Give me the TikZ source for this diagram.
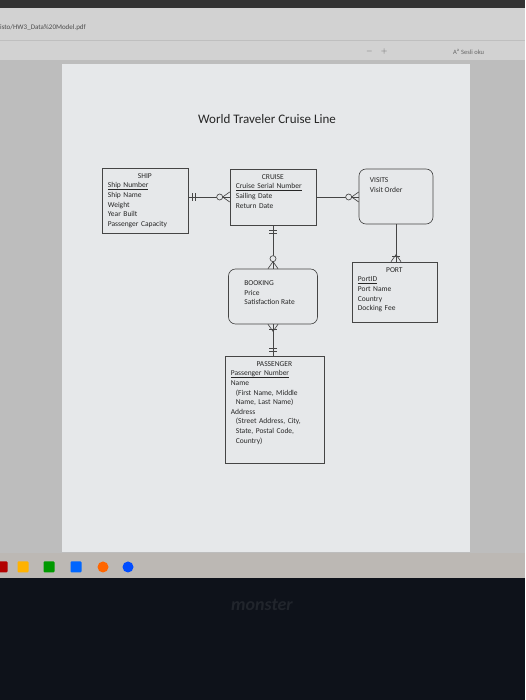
\documentclass[tikz,border=0pt]{standalone}
\usepackage{fontspec}
\setmainfont{Carlito}
\usepackage{tikz}

\definecolor{framegray}{HTML}{BDBDBD}
\definecolor{toolbar}{HTML}{D2D2D2}
\definecolor{pagewhite}{HTML}{E6E8EA}
\definecolor{linegray}{HTML}{454545}
\definecolor{textgray}{HTML}{262626}
\definecolor{taskbar}{HTML}{BCB8B4}
\definecolor{bezel}{HTML}{0E121A}

\tikzset{
  entity/.style={draw=linegray, line width=0.65pt},
  relbox/.style={entity, rounded corners=7pt},
  attrs/.style={anchor=north west, inner sep=0pt, align=left, text=textgray,
    font=\fontsize{7.5}{9.6}\selectfont},
  conn/.style={draw=linegray, line width=0.65pt},
  icon/.style={inner sep=0pt, minimum size=11pt, rounded corners=1pt}
}

% key attribute, underlined close to the baseline
\newcommand{\keyattr}[1]{\leavevmode\setbox0\hbox{#1}\rlap{\rule[-1.1pt]{\wd0}{0.4pt}}\box0}
% ER end marks: #1 point on the box, #2 outward direction
\newcommand{\crowsfoot}[2]{\draw[conn,shift={(#1)},rotate=#2] (0,5) -- (7,0) -- (0,-5);}
\newcommand{\zeroring}[2]{\draw[conn,fill=pagewhite,shift={(#1)},rotate=#2] (10,0) circle (3);}
\newcommand{\onebar}[3]{\draw[conn,shift={(#1)},rotate=#2] (#3,-4) -- (#3,4);}

\begin{document}
\begin{tikzpicture}[x=1pt,y=1pt]
\useasboundingbox (0,0) rectangle (525,700);
% screen around the page
\fill[framegray] (0,0) rectangle (525,700);
\fill[bezel] (0,0) rectangle (525,122);
\fill[taskbar] (0,122) rectangle (525,147);
\fill[toolbar] (0,640) rectangle (525,692);
\fill[black!80] (0,692) rectangle (525,700);
\draw[black!25] (0,660) -- (525,660);
\fill[pagewhite] (62,148) rectangle (470,636);
\node[anchor=west, inner sep=0pt, text=black!70, font=\fontsize{7}{8}\selectfont] (path) at (0,672) {isto/HW3\_Data\%20Model.pdf};
\node[anchor=west, inner sep=0pt, text=black!60, font=\fontsize{8}{9}\selectfont] (zoombtn) at (366,648) {$-$\quad$+$};
\node[anchor=west, inner sep=0pt, text=black!60, font=\fontsize{6.5}{8}\selectfont] (readbtn) at (453,648) {A\textsuperscript{a} Sesli oku};
\node[icon, fill=red!70!black] (app1) at (2,133) {};
\node[icon, fill=orange!60!yellow] (app2) at (23,133) {};
\node[icon, fill=green!60!black] (app3) at (49,133) {};
\node[icon, fill=blue!60!cyan] (app4) at (76,133) {};
\node[icon, circle, fill=red!60!yellow] (app5) at (103,133) {};
\node[icon, circle, fill=blue!70!cyan] (app6) at (128,133) {};
\node[text=white!8!bezel, font=\fontsize{18}{20}\selectfont\bfseries\itshape] (logo) at (262,95) {monster};

\node[text=textgray, font=\fontsize{13}{15}\selectfont] (title) at (267,581) {World Traveler Cruise Line};

% entities
\node[entity, minimum width=86pt, minimum height=65pt] (ship) at (145,499.5) {};
\node[attrs, text width=74pt] (shiptxt) at ([xshift=6pt,yshift=-5.5pt]ship.north west)
  {\hfill SHIP\hfill\null\\ \keyattr{Ship Number}\\ Ship Name\\ Weight\\ Year Built\\ Passenger Capacity};

\node[entity, minimum width=86pt, minimum height=56pt] (cruise) at (273,503) {};
\node[attrs, text width=74pt] (cruisetxt) at ([xshift=6pt,yshift=-5.5pt]cruise.north west)
  {\hfill CRUISE\hfill\null\\ \keyattr{Cruise Serial Number}\\ Sailing Date\\ Return Date};

\node[relbox, minimum width=74pt, minimum height=55pt] (visits) at (396,503.5) {};
\node[attrs] (visitstxt) at ([xshift=11pt,yshift=-9pt]visits.north west)
  {VISITS\\ Visit Order};

\node[relbox, minimum width=89pt, minimum height=55pt] (booking) at (273,403.5) {};
\node[attrs] (bookingtxt) at ([xshift=16pt,yshift=-12pt]booking.north west)
  {BOOKING\\ Price\\ Satisfaction Rate};

\node[entity, minimum width=85pt, minimum height=60pt] (port) at (394.5,408) {};
\node[attrs, text width=73pt] (porttxt) at ([xshift=6pt,yshift=-5.5pt]port.north west)
  {\hfill PORT\hfill\null\\ \keyattr{PortID}\\ Port Name\\ Country\\ Docking Fee};

\node[entity, minimum width=99pt, minimum height=107pt] (passenger) at (274.5,290.5) {};
\node[attrs, text width=87pt] (passengertxt) at ([xshift=6pt,yshift=-5.5pt]passenger.north west)
  {\hfill PASSENGER\hfill\null\\ \keyattr{Passenger Number}\\ Name\\
   \hspace*{5pt}(First Name, Middle\\ \hspace*{5pt}Name, Last Name)\\ Address\\
   \hspace*{5pt}(Street Address, City,\\ \hspace*{5pt}State, Postal Code,\\ \hspace*{5pt}Country)};

% relationships
\draw[conn] (cruise.west) -- (cruise.west -| ship.east);
\draw[conn] (cruise.east) -- (cruise.east -| visits.west);
\draw[conn] (cruise.south) -- (booking.north);
\draw[conn] (visits.south) -- (visits.south |- port.north);
\draw[conn] (booking.south) -- (booking.south |- passenger.north);

\onebar{cruise.west -| ship.east}{0}{4}
\onebar{cruise.west -| ship.east}{0}{7}
\crowsfoot{cruise.west}{180}
\zeroring{cruise.west}{180}

\crowsfoot{cruise.east -| visits.west}{180}
\zeroring{cruise.east -| visits.west}{180}

\onebar{cruise.south}{270}{5}
\onebar{cruise.south}{270}{8}
\crowsfoot{booking.north}{90}
\zeroring{booking.north}{90}

\crowsfoot{visits.south |- port.north}{90}
\onebar{visits.south |- port.north}{90}{5}

\crowsfoot{booking.south}{270}
\onebar{booking.south}{270}{5}
\onebar{booking.south |- passenger.north}{90}{4}
\onebar{booking.south |- passenger.north}{90}{7}
\end{tikzpicture}
\end{document}
